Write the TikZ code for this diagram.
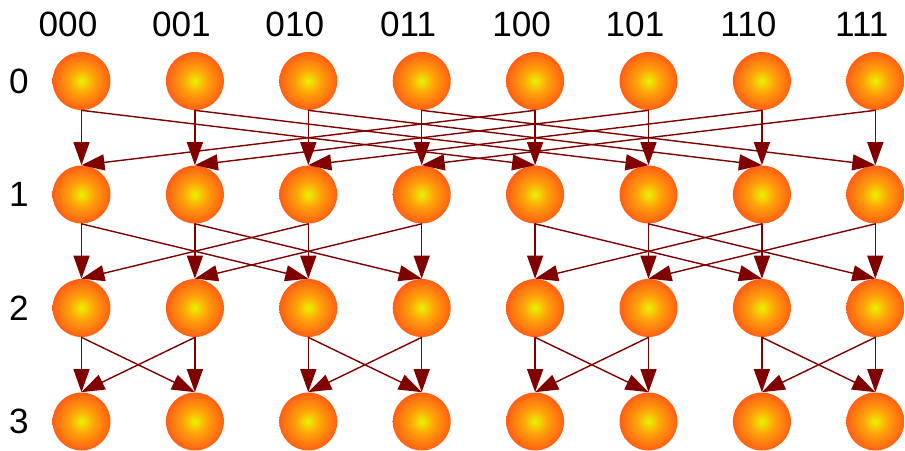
\documentclass[tikz,border=0pt]{standalone}
\usepackage{fontspec}
\setmainfont{Liberation Sans}
\usetikzlibrary{arrows.meta}

\definecolor{edgered}{RGB}{128,0,0}
\definecolor{ballin}{RGB}{232,244,0}
\definecolor{ballmid}{RGB}{255,165,10}
\definecolor{ballout}{RGB}{255,95,20}

\pgfdeclareradialshading{ball}{\pgfpoint{0bp}{0bp}}{%
	color(0bp)=(ballin); color(10bp)=(ballmid); color(25bp)=(ballout); color(50bp)=(ballout)}

\tikzset{
	vertex/.style={circle, minimum size=1.16cm, inner sep=0pt, shading=ball},
	link/.style={draw=edgered, line width=0.8pt, -{Triangle[length=0.46cm, width=0.32cm]}},
}

\begin{document}
\begin{tikzpicture}[x=0.02cm, y=-0.02cm, font=\fontsize{20}{24}\selectfont, line join=round, line cap=round]
	\useasboundingbox (0,0) rectangle (905,450);
	% column and row labels
	\foreach \lab [count=\c from 0] in {000,001,010,011,100,101,110,111}
		\node (col-\c) at (68+113.4*\c, 24) {\lab};
	\foreach \r in {0,...,3}
		\node (row-\r) at (19, 81+113.5*\r) {\r};
	% switches
	\foreach \r in {0,...,3}
		\foreach \c in {0,...,7}
			\node[vertex] (n-\r-\c) at (81.5+113.4*\c, 81+113.5*\r) {};
	% butterfly links: straight down and across to the partner column
	\foreach \r in {0,1,2}{
		\pgfmathtruncatemacro{\b}{2^(2-\r)}
		\pgfmathtruncatemacro{\s}{\r+1}
		\foreach \c in {0,...,7}{
			\pgfmathtruncatemacro{\p}{mod(floor(\c/\b),2)==0 ? \c+\b : \c-\b}
			\draw[link] (n-\r-\c.south) -- (n-\s-\c.north);
			\draw[link] (n-\r-\c.south) -- (n-\s-\p.north);
		}
	}
\end{tikzpicture}
\end{document}
